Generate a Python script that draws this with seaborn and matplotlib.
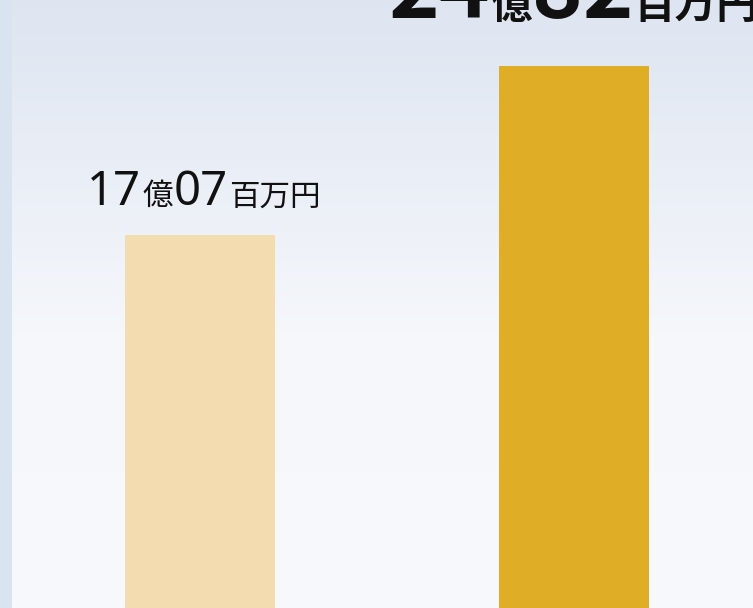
import numpy as np
import matplotlib
matplotlib.use("Agg")
import matplotlib.pyplot as plt
import seaborn as sns
import pandas as pd
from matplotlib.colors import to_rgb
from matplotlib.patches import Rectangle

# ---- data ----
categories = ["前期", "当期"]
values = [17.07, 24.82]          # 億円
oku_parts = ["17", "24"]
hyakuman_parts = ["07", "82"]
bar_colors = ["#f3ddb0", "#dfae26"]

sns.set_theme(style="white")
plt.rcParams["font.family"] = ["Noto Sans CJK JP", "DejaVu Sans"]
DIGIT_FONT = ["Noto Sans", "DejaVu Sans"]
CJK_FONT = ["Noto Sans CJK JP", "DejaVu Sans"]

W, H = 753, 608
fig = plt.figure(figsize=(W / 100, H / 100), dpi=100)

# background gradient
bg = fig.add_axes([0, 0, 1, 1])
bg.set_axis_off()
t = np.linspace(0, 1, H)
c_top = np.array(to_rgb("#dee5f1"))
c_mid = np.array(to_rgb("#f5f7fb"))
c_bot = np.array(to_rgb("#f8f9fc"))
rows = []
for v in t:
    if v < 0.55:
        f = v / 0.55
        rows.append(c_top * (1 - f) + c_mid * f)
    else:
        f = (v - 0.55) / 0.45
        rows.append(c_mid * (1 - f) + c_bot * f)
img = np.array(rows).reshape(H, 1, 3)
bg.imshow(img, aspect="auto", extent=[0, 1, 0, 1])
bg.add_patch(Rectangle((0, 0), 12 / W, 1, color="#dae3f0", lw=0))
bg.set_xlim(0, 1)
bg.set_ylim(0, 1)

# bars
ax = fig.add_axes([0, 0, 1, 1])
ax.patch.set_alpha(0)
df = pd.DataFrame({"period": categories, "value": values})
sns.barplot(data=df, x="period", y="value", hue="period", palette=bar_colors,
            width=150 / 374, saturation=1, legend=False, linewidth=0,
            edgecolor="none", ax=ax)
ax.set_xlim(-200 / 374, (W - 200) / 374)
ax.set_ylim(0, H / (542 / values[1]))
ax.set_axis_off()

renderer = fig.canvas.get_renderer()


def draw_label(x, y, pieces, dy, gap, xshift=0):
    texts = []
    for s, size, weight, fam in pieces:
        tx = ax.annotate(s, xy=(x, y), xytext=(0, dy), textcoords="offset pixels",
                         ha="left", va="baseline", fontsize=size, fontweight=weight,
                         family=fam, color="#111111")
        texts.append(tx)
    widths = [tx.get_window_extent(renderer).width for tx in texts]
    total = sum(widths) + gap * (len(widths) - 1)
    off = -total / 2 + xshift
    for tx, w in zip(texts, widths):
        tx.xyann = (off, dy)
        off += w + gap


draw_label(0, values[0],
           [(oku_parts[0], 34, "normal", DIGIT_FONT), ("億", 22, "normal", CJK_FONT),
            (hyakuman_parts[0], 34, "normal", DIGIT_FONT), ("百万円", 22, "normal", CJK_FONT)],
           30, 1, xshift=4)
draw_label(1, values[1],
           [(oku_parts[1], 62, "bold", CJK_FONT), ("億", 30, "bold", CJK_FONT),
            (hyakuman_parts[1], 62, "bold", CJK_FONT), ("百万円", 30, "bold", CJK_FONT)],
           48, 0)

fig.savefig("out.png", dpi=100)
